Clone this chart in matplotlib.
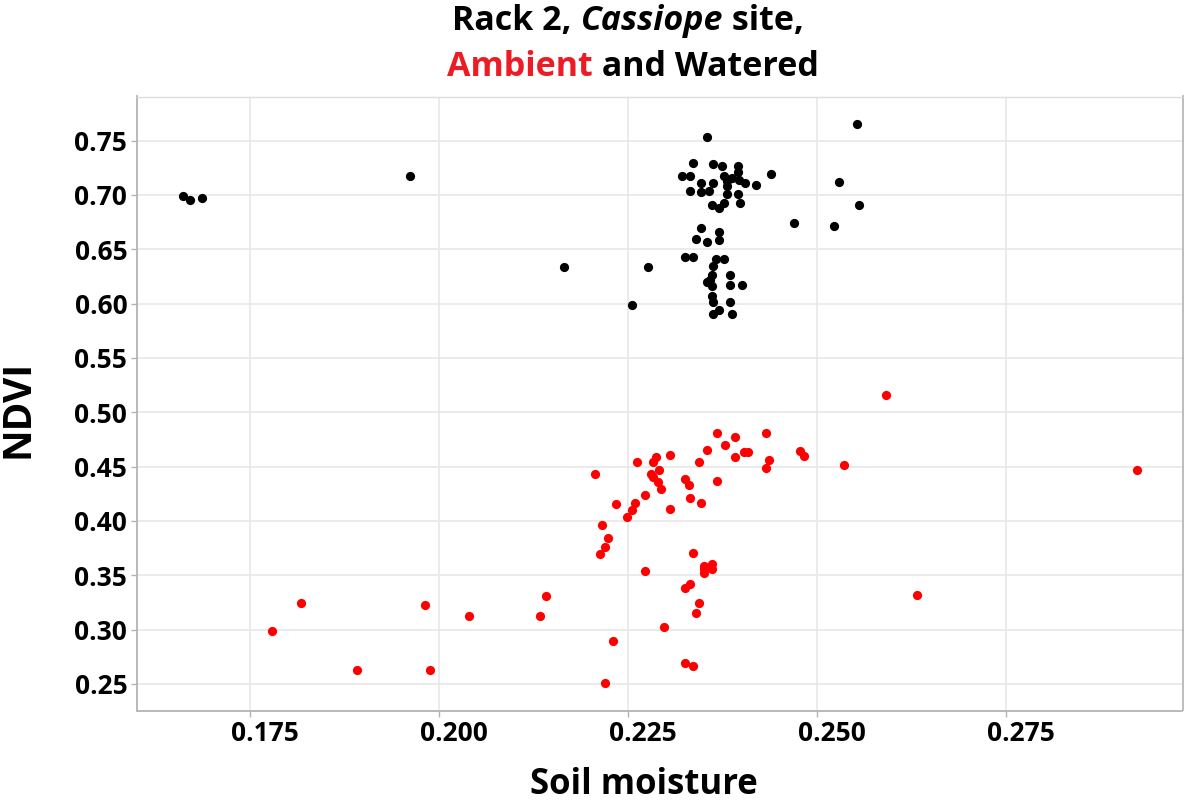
import matplotlib
matplotlib.use("Agg")
import matplotlib.pyplot as plt
import matplotlib.transforms as mtransforms
import numpy as np

plt.rcParams['font.family'] = ['Open Sans', 'DejaVu Sans']

# Watered plots (black)
watered_x = [0.2553, 0.2354, 0.2336, 0.2363, 0.2374, 0.2395, 0.2395, 0.2439, 0.2322, 0.2332,
             0.2377, 0.2387, 0.2381, 0.2397, 0.2405, 0.2419, 0.2347, 0.2363, 0.2381, 0.2529,
             0.2332, 0.2347, 0.2357, 0.2381, 0.2395, 0.2377, 0.2398, 0.2361, 0.2370, 0.2556,
             0.2469, 0.2522, 0.2347, 0.2370, 0.2340, 0.2354, 0.2370, 0.2325, 0.2336, 0.2367,
             0.2377, 0.2363, 0.2165, 0.2276, 0.2361, 0.2385, 0.2354, 0.2359, 0.2361, 0.2385,
             0.2401, 0.2361, 0.2363, 0.2385, 0.2255, 0.2370, 0.2363, 0.2388, 0.1662, 0.1671,
             0.1687, 0.1962]
watered_y = [0.7654, 0.7534, 0.7295, 0.7282, 0.7270, 0.7263, 0.7212, 0.7193, 0.7178, 0.7171,
             0.7178, 0.7153, 0.7132, 0.7134, 0.7110, 0.7092, 0.7110, 0.7110, 0.7086, 0.7122,
             0.7040, 0.7028, 0.7040, 0.7012, 0.7012, 0.6926, 0.6926, 0.6911, 0.6877, 0.6911,
             0.6745, 0.6711, 0.6696, 0.6656, 0.6598, 0.6570, 0.6586, 0.6425, 0.6425, 0.6413,
             0.6413, 0.6349, 0.6333, 0.6333, 0.6266, 0.6266, 0.6195, 0.6214, 0.6158, 0.6174,
             0.6174, 0.6073, 0.6011, 0.6011, 0.5990, 0.5944, 0.5901, 0.5901, 0.6994, 0.6957,
             0.6975, 0.7178]

# Ambient plots (red)
ambient_x = [0.2591, 0.2368, 0.2392, 0.2432, 0.2378, 0.2354, 0.2404, 0.2409, 0.2478, 0.2483,
             0.2392, 0.2436, 0.2305, 0.2287, 0.2283, 0.2262, 0.2344, 0.2432, 0.2535, 0.2206,
             0.2291, 0.2280, 0.2283, 0.2290, 0.2294, 0.2325, 0.2330, 0.2368, 0.2273, 0.2332,
             0.2347, 0.2234, 0.2259, 0.2255, 0.2248, 0.2305, 0.2216, 0.2223, 0.2220, 0.2213,
             0.2273, 0.2336, 0.2350, 0.2361, 0.2350, 0.2361, 0.2350, 0.2632, 0.2332, 0.2325,
             0.2344, 0.2340, 0.2297, 0.2230, 0.2325, 0.2336, 0.2220, 0.2141, 0.2133, 0.1779,
             0.1818, 0.1892, 0.1981, 0.1988, 0.2040, 0.2923]
ambient_y = [0.5158, 0.4808, 0.4772, 0.4808, 0.4703, 0.4655, 0.4634, 0.4634, 0.4648, 0.4597,
             0.4590, 0.4563, 0.4611, 0.4587, 0.4541, 0.4541, 0.4541, 0.4486, 0.4514, 0.4436,
             0.4471, 0.4431, 0.4400, 0.4357, 0.4296, 0.4388, 0.4335, 0.4366, 0.4240, 0.4213,
             0.4164, 0.4157, 0.4164, 0.4099, 0.4038, 0.4114, 0.3967, 0.3844, 0.3759, 0.3697,
             0.3541, 0.3703, 0.3589, 0.3602, 0.3562, 0.3562, 0.3519, 0.3320, 0.3418, 0.3381,
             0.3243, 0.3157, 0.3025, 0.2893, 0.2691, 0.2669, 0.2506, 0.3310, 0.3123, 0.2991,
             0.3249, 0.2629, 0.3227, 0.2629, 0.3123, 0.4471]

xticks = [0.175, 0.200, 0.225, 0.250, 0.275]
yticks = [0.25, 0.30, 0.35, 0.40, 0.45, 0.50, 0.55, 0.60, 0.65, 0.70, 0.75]

W, H = 1184, 801
fig = plt.figure(figsize=(W / 100, H / 100), dpi=100)
ax = fig.add_axes([137 / W, 1 - 710.5 / H, (1182.5 - 137) / W, (710.5 - 96.5) / H])

ax.scatter(watered_x, watered_y, s=44, color='black', linewidths=0, zorder=3)
ax.scatter(ambient_x, ambient_y, s=44, color='#FF0000', linewidths=0, zorder=3)

ax.set_xlim(0.16005, 0.29834)
ax.set_ylim(0.2256, 0.7905)
ax.set_xticks(xticks)
ax.set_xticklabels(['%.3f' % v for v in xticks])
ax.set_yticks(yticks)
ax.set_yticklabels(['%.2f' % v for v in yticks])
ax.grid(True, color='#E6E6E6', linewidth=1.1, zorder=0)
ax.set_axisbelow(True)

for s in ['left', 'bottom']:
    ax.spines[s].set_color('#B3B3B3')
    ax.spines[s].set_linewidth(1.3)
ax.spines['top'].set_color('#DDDDDD')
ax.spines['right'].set_color('#B8B8B8')
ax.spines['top'].set_linewidth(1.0)
ax.spines['right'].set_linewidth(1.3)

ax.tick_params(axis='both', length=4, width=1, color='#B3B3B3', labelsize=19, pad=3)
for lab in ax.get_xticklabels() + ax.get_yticklabels():
    lab.set_fontweight('bold')
# x tick labels sit a bit right of their ticks in the original
shift = mtransforms.ScaledTranslation(15 / 100, 0, fig.dpi_scale_trans)
for lab in ax.get_xticklabels():
    lab.set_transform(lab.get_transform() + shift)

fig.text(644 / W, 1 - 785 / H, 'Soil moisture', ha='center', va='center',
         fontsize=25, fontweight='bold')
fig.text(18.5 / W, 1 - 409 / H, 'NDVI', ha='center', va='center', rotation=90,
         fontsize=28, fontweight='bold')

# two-line title with mixed style
def draw_line(parts, cx, baseline):
    renderer = fig.canvas.get_renderer()
    texts = []
    for s, col, style in parts:
        t = fig.text(0, 1 - baseline / H, s, color=col, style=style, fontsize=24.5,
                     fontweight='bold', ha='left', va='baseline')
        texts.append(t)
    widths = [t.get_window_extent(renderer).width for t in texts]
    x = cx - sum(widths) / 2
    for t, w in zip(texts, widths):
        t.set_x(x / W)
        x += w

draw_line([('Rack 2, ', 'black', 'normal'), ('Cassiope', 'black', 'italic'),
           (' site,', 'black', 'normal')], 628, 30)
draw_line([('Ambient', '#ED1C24', 'normal'), (' and Watered', 'black', 'normal')],
          633, 76.5)

fig.savefig('out.png', dpi=100)
